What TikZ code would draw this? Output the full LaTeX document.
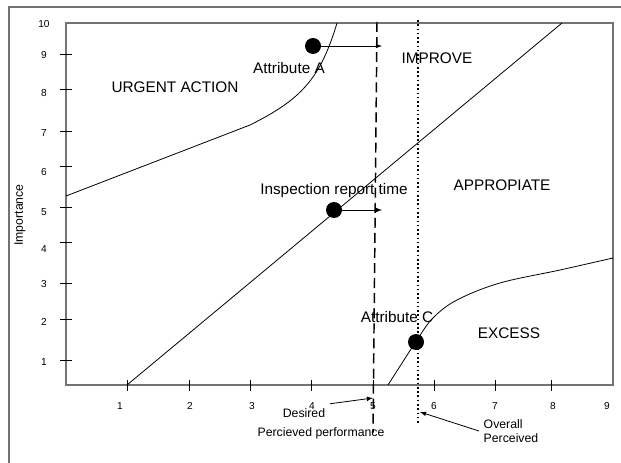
\documentclass[tikz,border=0pt]{standalone}
\usepackage{fontspec}
\setmainfont{Liberation Sans}
\usetikzlibrary{positioning}

\begin{document}
\begin{tikzpicture}[x=0.75pt,y=-0.75pt,
	frame/.style={draw=black!55,line width=0.9pt},
	curve/.style={black,line width=0.6pt},
	dot/.style={circle,fill=black,inner sep=0pt,minimum size=12pt},
	arr/.style={->,-latex,line width=0.6pt},
	zone/.style={font=\fontsize{11.5}{13}\selectfont},
	small/.style={font=\fontsize{9.2}{11}\selectfont},
	tick/.style={font=\fontsize{7.6}{9}\selectfont}]
	\useasboundingbox (0,0) rectangle (621,463);

	%cadre
	\draw [frame] (9,463) -- (9,7) -- (621,7);
	\draw [frame] (66,23) rectangle (613,385);

	%graduations
	\foreach \yy/\lab/\ly in {54/9/55,89/8/93,131/7/133,166/6/172,207/5/212,242/4/249,283/3/284,319/2/322,360/1/362}{
		\draw [black,line width=0.6pt] (60,\yy) -- (72,\yy);
		\node [tick] (ylab\lab) at (44,\ly) {\lab};
	}
	\node [tick] (ylab10) at (44,24) {10};
	\foreach \xx/\lab/\lx in {127/1/120,189/2/190,250/3/252,311/4/312,373/5/373,434/6/434,495/7/495,551/8/553}{
		\draw [black,line width=0.6pt] (\xx,380) -- (\xx,391);
		\node [tick] (xlab\lab) at (\lx,406) {\lab};
	}
	\node [tick] (xlab9) at (607,406) {9};
	\node [small,rotate=90] (ytitle) at (20,215) {Importance};

	%frontieres
	\draw [curve] (66,196) -- (250,125) .. controls (300,100) and (320,80) .. (337,23);
	\draw [curve] (127,385) -- (562,23);
	\draw [curve] plot [smooth,tension=0.6] coordinates {(388,385) (417,340) (433,318) (457,300) (500,283) (560,270) (613,258)};

	%seuils
	\draw [black,line width=1.1pt,dash pattern=on 7.5pt off 3.8pt] (377,22) -- (373,433);
	\draw [black,line width=1.4pt,dash pattern=on 1.2pt off 2pt] (418,20) -- (418,423);

	%zones
	\node [zone] (urgent) at (175,87) {URGENT ACTION};
	\node [zone] (improve) at (437,58) {IMPROVE};
	\node [zone] (approp) at (502,185) {APPROPIATE};
	\node [zone] (excess) at (509,333) {EXCESS};

	%attributs
	\node [dot] (dotA) at (313,46) {};
	\node [zone] (attA) at (289,68) {Attribute A};
	\coordinate (tipA) at (382,46);
	\draw [arr] (dotA) -- (tipA);

	\node [dot] (dotI) at (334,210) {};
	\node [zone] (attI) at (334,191) {Inspection report time};
	\coordinate (tipI) at (382,210);
	\draw [arr] (dotI) -- (tipI);

	\node [dot] (dotC) at (416,342) {};
	\node [zone] (attC) at (397,317) {Attribute C};

	%legendes
	\node [small] (desired) at (304,413) {Desired};
	\node [small] (perf) at (321,433) {Percieved performance};
	\coordinate (desTip) at (373,398);
	\draw [arr] (desired.north east) -- (desTip);
	\node [small,align=left,anchor=west] (overall) at (479,431) {Overall\\Perceived};
	\coordinate (ovrTip) at (420,412);
	\draw [arr] (overall.west) -- (ovrTip);
\end{tikzpicture}
\end{document}
